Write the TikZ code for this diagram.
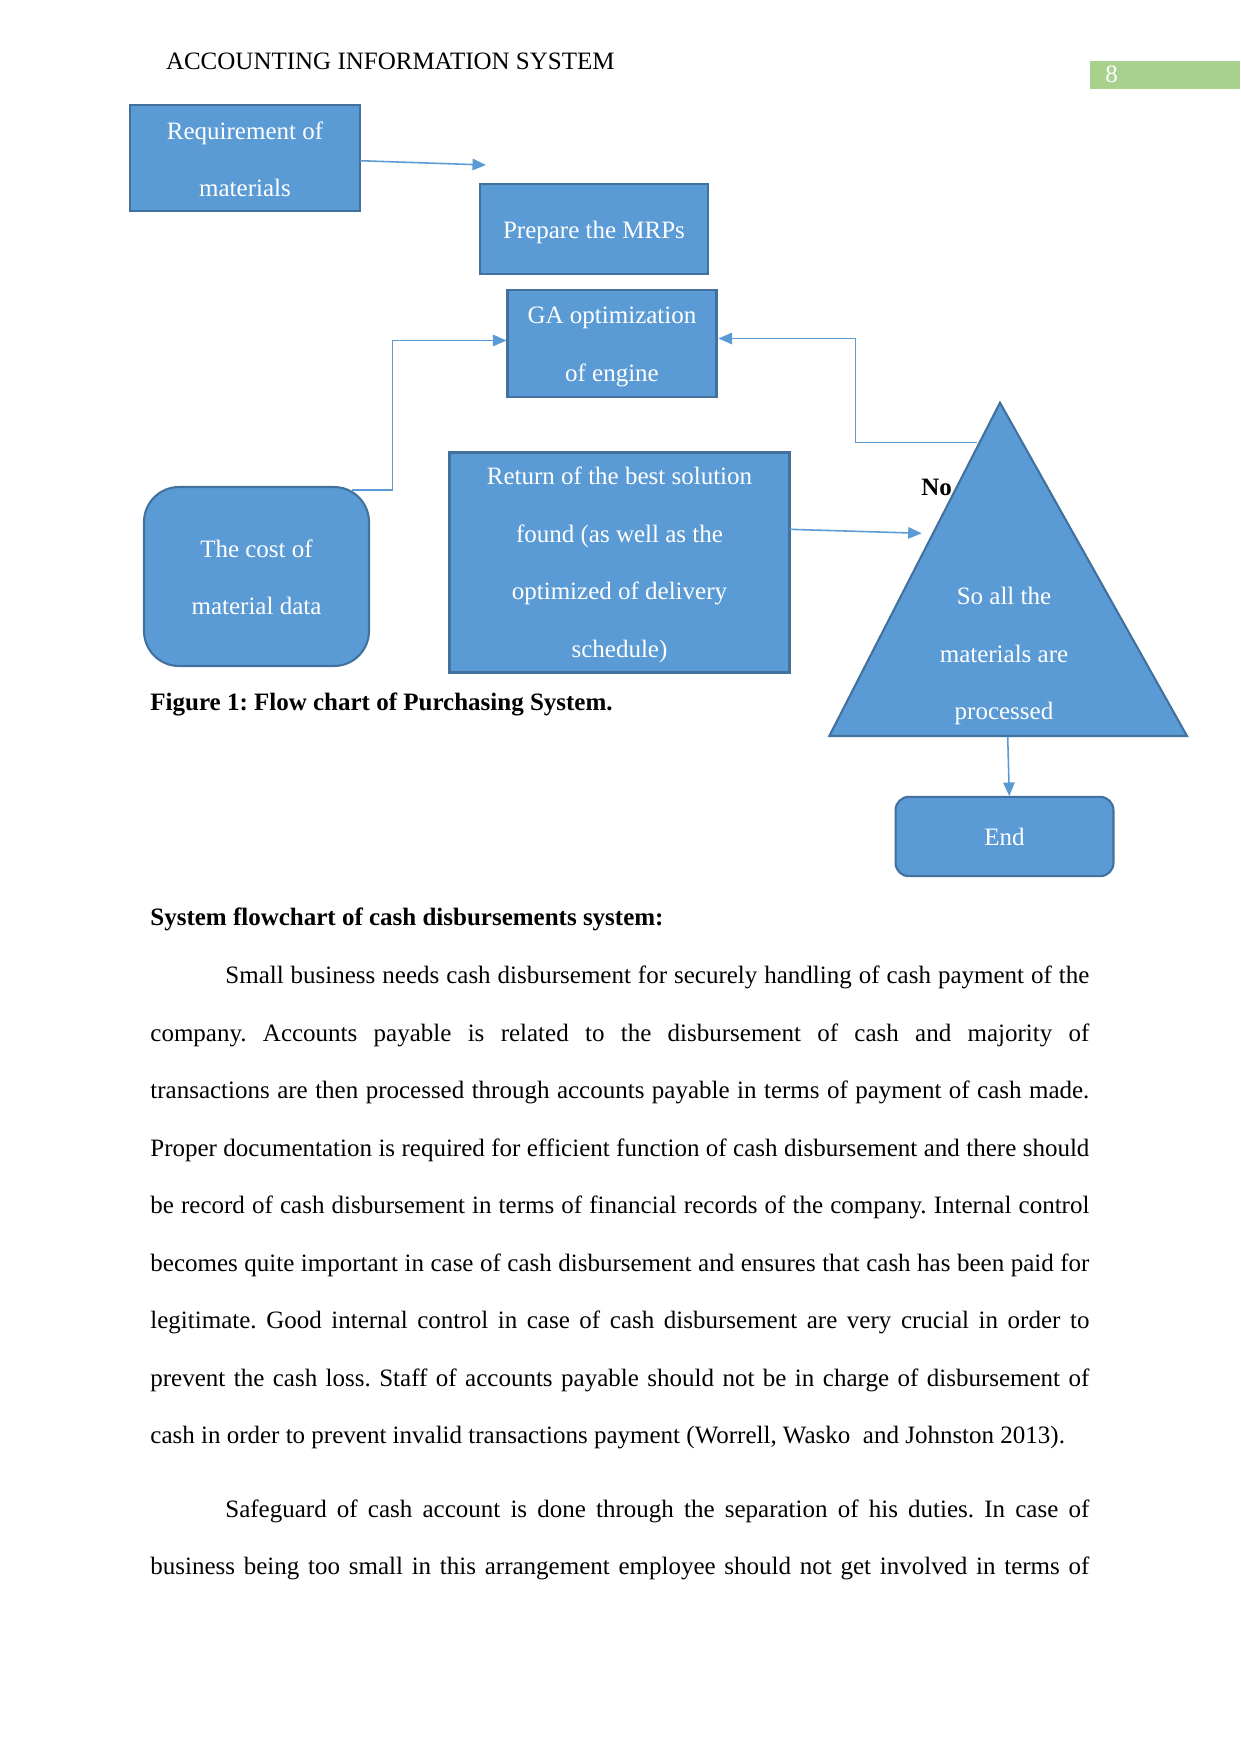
\documentclass[tikz,border=0pt]{standalone}
\usepackage{fontspec}
\setmainfont{Liberation Serif}
\usetikzlibrary{arrows.meta,calc}
\definecolor{boxfill}{HTML}{5B9BD5}
\definecolor{boxline}{HTML}{41719C}
\definecolor{pggreen}{HTML}{A9D18E}
\begin{document}
\frenchspacing
\begin{tikzpicture}[x=0.48pt,y=-0.48pt,
  box/.style={draw=boxline, line width=1pt, fill=boxfill, inner sep=0pt},
  boxtext/.style={text=white, font=\fontsize{12}{27.6}\selectfont, align=center, inner sep=0pt},
  conn/.style={draw=boxfill, line width=0.75pt, -{Triangle[length=6.5pt,width=5.5pt]}},
  body/.style={anchor=base west, inner sep=0pt, font=\fontsize{12}{14}\selectfont},
  bold/.style={anchor=base west, inner sep=0pt, font=\fontsize{12}{14}\selectfont\bfseries}]
\useasboundingbox (0,0) rectangle (1241,1754);
\fill[white] (0,0) rectangle (1241,1754);

% header
\node[body] (hdr) at (165.6,69) {ACCOUNTING INFORMATION SYSTEM};
\node[fill=pggreen, minimum width=72pt, minimum height=13.6pt, inner sep=0pt] (pg) at (1165,75) {};
\node[body, text=white] (pgn) at (1105,82.5) {8};

% flowchart boxes
\node[box, minimum width=110.4pt, minimum height=50.9pt] (req) at (245,158) {};
\node[boxtext] (reqt) at ($(req)+(0,1.2)$) {Requirement of\\materials};
\node[box, minimum width=109.4pt, minimum height=43.4pt] (mrp) at (594,229) {};
\node[boxtext] (mrpt) at ($(mrp)+(0,3.4)$) {Prepare the MRPs};
\node[box, minimum width=100.3pt, minimum height=51.4pt] (ga) at (612,343.5) {};
\node[boxtext] (gat) at ($(ga)+(0,3.4)$) {GA optimization\\of engine};
\node[box, rounded corners=16.8pt, minimum width=108pt, minimum height=85.9pt] (cost) at (256.5,576.5) {};
\node[boxtext] (costt) at ($(cost)+(0,1)$) {The cost of\\material data};
\node[box, minimum width=163.2pt, minimum height=105.6pt] (ret) at (619.5,562.5) {};
\node[boxtext] (rett) at ($(ret)+(0,2.5)$) {Return of the best solution\\found (as well as the\\optimized of delivery\\schedule)};
\node[box, rounded corners=6.4pt, minimum width=104.6pt, minimum height=38.1pt] (endb) at (1004.5,836.5) {};
\node[boxtext] (endt) at (endb) {End};

% triangle decision
\coordinate (tapex) at (1000,402.7);
\coordinate (tbl) at (829.3,736);
\coordinate (tbr) at (1187,736);
\filldraw[draw=boxline, line width=1pt, fill=boxfill] (tapex) -- (tbr) -- (tbl) -- cycle;
\node[boxtext] (tri) at (1004,656) {So all the\\materials are\\processed};
\node[bold] (no) at (921,495) {No};

% connectors
\coordinate (a1s) at (359.6,160.7);
\coordinate (a1e) at (486,165);
\draw[conn] (a1s) -- (a1e);

\coordinate (a2s) at (352,490);
\coordinate (a2e) at (506.5,340.5);
\draw[conn] (a2s) -- (392.5,490) |- (a2e);

\coordinate (a3s) at (977,442.7);
\coordinate (a3e) at (718.5,338.5);
\draw[conn] (a3s) -- (855.3,442.7) |- (a3e);

\coordinate (a4s) at (789.3,529.3);
\coordinate (a4e) at (921.7,533.3);
\draw[conn] (a4s) -- (a4e);

\coordinate (a5s) at (1007.7,736.5);
\coordinate (a5e) at (1009.3,796);
\draw[conn] (a5s) -- (a5e);

% captions
\node[bold] (cap) at (150,710) {Figure 1: Flow chart of Purchasing System.};
\node[bold] (head) at (150,925) {System flowchart of cash disbursements system:};

% body text
\node[body] (l1) at (225,983.5) {\makebox[414.7pt][s]{Small business needs cash disbursement for securely handling of cash payment of the}};
\node[body] (l2) at (150,1041) {\makebox[450.7pt][s]{company. Accounts payable is related to the disbursement of cash and majority of}};
\node[body] (l3) at (150,1098.5) {\makebox[450.7pt][s]{transactions are then processed through accounts payable in terms of payment of cash made.}};
\node[body] (l4) at (150,1156) {\makebox[450.7pt][s]{Proper documentation is required for efficient function of cash disbursement and there should}};
\node[body] (l5) at (150,1213.5) {\makebox[450.7pt][s]{be record of cash disbursement in terms of financial records of the company. Internal control}};
\node[body] (l6) at (150,1271) {\makebox[450.7pt][s]{becomes quite important in case of cash disbursement and ensures that cash has been paid for}};
\node[body] (l7) at (150,1328.5) {\makebox[450.7pt][s]{legitimate. Good internal control in case of cash disbursement are very crucial in order to}};
\node[body] (l8) at (150,1386) {\makebox[450.7pt][s]{prevent the cash loss. Staff of accounts payable should not be in charge of disbursement of}};
\node[body] (l9) at (150,1443.5) {cash in order to prevent invalid transactions payment (Worrell, Wasko\ \ and Johnston 2013).};
\node[body] (l10) at (225,1517) {\makebox[414.7pt][s]{Safeguard of cash account is done through the separation of his duties. In case of}};
\node[body] (l11) at (150,1574.5) {\makebox[450.7pt][s]{business being too small in this arrangement employee should not get involved in terms of}};
\end{tikzpicture}
\end{document}
